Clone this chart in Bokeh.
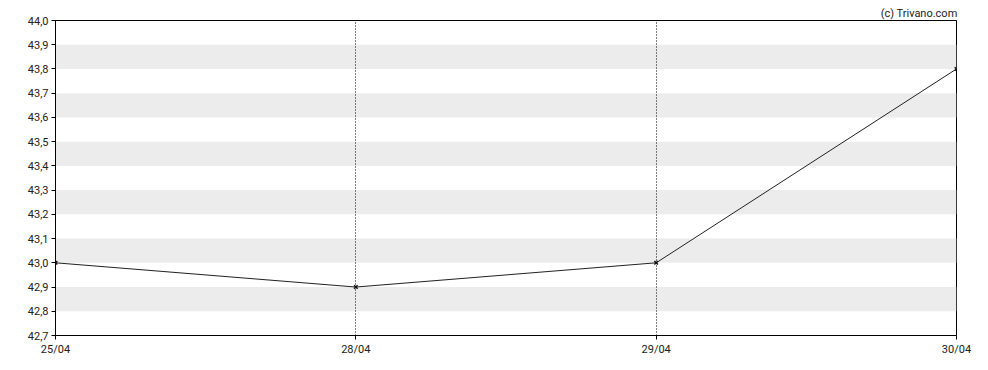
from bokeh.plotting import figure
from bokeh.models import FixedTicker, CustomJSTickFormatter, Title, Range1d
from bokeh.embed import file_html
from bokeh.resources import INLINE

dates = ["25/04", "28/04", "29/04", "30/04"]
prices = [43.0, 42.9, 43.0, 43.8]
y_ticks = [42.7, 42.8, 42.9, 43.0, 43.1, 43.2, 43.3, 43.4, 43.5, 43.6, 43.7, 43.8, 43.9, 44.0]
band_bottoms = [42.8, 43.0, 43.2, 43.4, 43.6, 43.8]
band_tops = [42.9, 43.1, 43.3, 43.5, 43.7, 43.9]

xs = list(range(len(dates)))
FONT = "Roboto"
TXT = "#222222"

p = figure(width=988, height=370, output_backend="svg", toolbar_location=None,
           x_range=Range1d(0, len(dates) - 1), y_range=Range1d(42.7, 44.0),
           min_border_left=55, min_border_right=32, min_border_top=20, min_border_bottom=35)
p.background_fill_color = "white"
p.border_fill_color = "white"
p.outline_line_color = "black"
p.outline_line_width = 1

# alternating bands
p.quad(left=[0] * len(band_bottoms), right=[len(dates) - 1] * len(band_bottoms),
       bottom=band_bottoms, top=band_tops, fill_color="#ececec", line_color=None,
       level="image")

p.line(xs, prices, line_color="#222222", line_width=1)
p.scatter(xs, prices, marker="x", size=5, line_color="#111111", line_width=1.5)

p.xaxis.ticker = FixedTicker(ticks=xs)
p.xaxis.major_label_overrides = {i: d for i, d in enumerate(dates)}
p.yaxis.ticker = FixedTicker(ticks=y_ticks)
p.yaxis.formatter = CustomJSTickFormatter(code="return tick.toFixed(1).replace('.', ',');")

for ax in (p.xaxis[0], p.yaxis[0]):
    ax.axis_line_color = "black"
    ax.major_tick_line_color = "black"
    ax.major_tick_out = 4
    ax.major_tick_in = 0
    ax.minor_tick_line_color = None
    ax.major_label_text_font = FONT
    ax.major_label_text_font_size = "11px"
    ax.major_label_text_color = TXT
    ax.major_label_standoff = 3

p.ygrid.grid_line_color = None
p.xgrid.ticker = FixedTicker(ticks=xs)
p.xgrid.grid_line_color = "black"
p.xgrid.grid_line_dash = "1 2"
p.xgrid.grid_line_width = 1

p.add_layout(Title(text="(c) Trivano.com", align="right", text_font=FONT,
                   text_font_size="11px", text_color=TXT, text_font_style="normal",
                   standoff=2, offset=-1), "above")

open("out.html", "w").write(file_html(p, INLINE))
